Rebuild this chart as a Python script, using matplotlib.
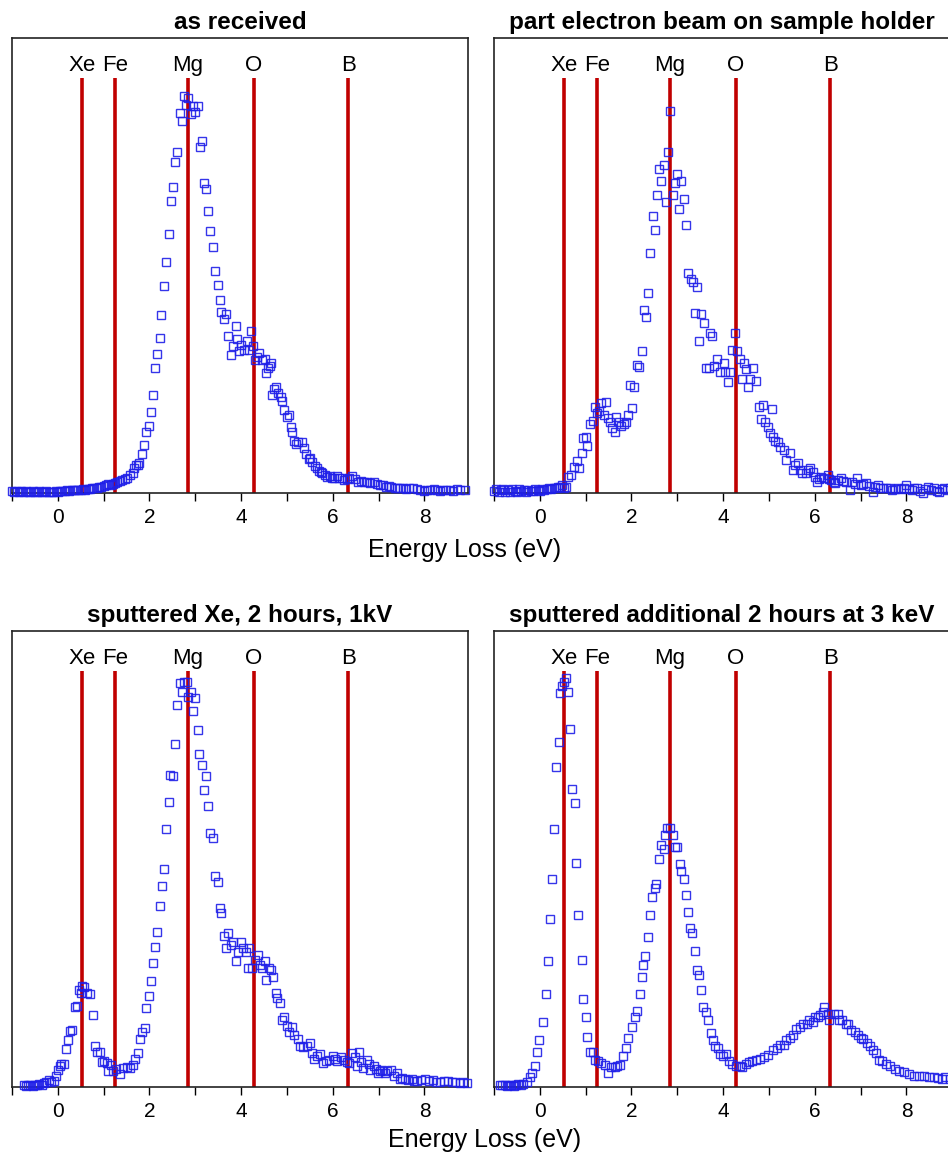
import matplotlib.pyplot as plt
from matplotlib.ticker import MultipleLocator

plt.rcParams['font.family'] = ['Liberation Sans', 'DejaVu Sans']

# edge positions (eV) of the reference elements
elements = ['Xe', 'Fe', 'Mg', 'O', 'B']
element_ev = [0.52, 1.24, 2.83, 4.27, 6.34]

titles = ['as received',
          'part electron beam on sample holder',
          'sputtered Xe, 2 hours, 1kV',
          'sputtered additional 2 hours at 3 keV']

# --- as received ---
x_recv = [-1.00, -0.95, -0.90, -0.85, -0.80, -0.75, -0.70, -0.65, -0.60, -0.55,
          -0.50, -0.45, -0.40, -0.35, -0.30, -0.25, -0.20, -0.15, -0.10, -0.05,
          0.00, 0.05, 0.10, 0.15, 0.20, 0.25, 0.30, 0.35, 0.40, 0.45,
          0.50, 0.55, 0.60, 0.65, 0.70, 0.75, 0.80, 0.86, 0.90, 0.95,
          1.00, 1.05, 1.10, 1.15, 1.20, 1.25, 1.30, 1.36, 1.41, 1.46,
          1.52, 1.57, 1.63, 1.67, 1.70, 1.74, 1.77, 1.83, 1.88, 1.93,
          1.98, 2.03, 2.07, 2.11, 2.16, 2.22, 2.26, 2.31, 2.37, 2.42,
          2.46, 2.51, 2.56, 2.61, 2.66, 2.72, 2.75, 2.80, 2.85, 2.91,
          2.96, 3.00, 3.05, 3.10, 3.14, 3.19, 3.24, 3.28, 3.33, 3.38,
          3.44, 3.49, 3.53, 3.57, 3.62, 3.67, 3.72, 3.77, 3.82, 3.88,
          3.91, 3.96, 4.00, 4.06, 4.12, 4.17, 4.22, 4.26, 4.31, 4.35,
          4.39, 4.46, 4.51, 4.55, 4.59, 4.63, 4.66, 4.68, 4.72, 4.75,
          4.81, 4.86, 4.90, 4.94, 4.99, 5.05, 5.09, 5.12, 5.16, 5.19,
          5.25, 5.33, 5.38, 5.42, 5.47, 5.51, 5.55, 5.62, 5.66, 5.69,
          5.74, 5.77, 5.83, 5.88, 5.93, 5.98, 6.03, 6.09, 6.14, 6.19,
          6.24, 6.30, 6.36, 6.42, 6.48, 6.56, 6.62, 6.68, 6.75, 6.82,
          6.89, 6.96, 7.04, 7.10, 7.16, 7.22, 7.28, 7.35, 7.41, 7.47,
          7.54, 7.60, 7.67, 7.76, 7.83, 7.90, 7.98, 8.05, 8.12, 8.20,
          8.27, 8.34, 8.41, 8.48, 8.56, 8.63, 8.70, 8.78, 8.88]
y_recv = [0.004, 0.003, 0.005, 0.003, 0.004, 0.002, 0.004, 0.003, 0.003, 0.004,
          0.002, 0.003, 0.004, 0.003, 0.002, 0.004, 0.003, 0.002, 0.003, 0.004,
          0.003, 0.005, 0.004, 0.005, 0.006, 0.005, 0.006, 0.007, 0.006, 0.007,
          0.007, 0.008, 0.006, 0.009, 0.008, 0.010, 0.011, 0.012, 0.014, 0.013,
          0.015, 0.017, 0.019, 0.018, 0.020, 0.022, 0.024, 0.027, 0.029, 0.031,
          0.033, 0.040, 0.043, 0.055, 0.062, 0.061, 0.065, 0.086, 0.105, 0.133,
          0.147, 0.179, 0.215, 0.275, 0.305, 0.341, 0.391, 0.456, 0.508, 0.570,
          0.641, 0.673, 0.727, 0.749, 0.836, 0.818, 0.873, 0.852, 0.869, 0.833,
          0.851, 0.838, 0.851, 0.761, 0.774, 0.681, 0.669, 0.619, 0.576, 0.540,
          0.489, 0.457, 0.424, 0.398, 0.382, 0.393, 0.344, 0.303, 0.322, 0.367,
          0.338, 0.311, 0.325, 0.314, 0.333, 0.314, 0.356, 0.322, 0.292, 0.300,
          0.307, 0.292, 0.294, 0.263, 0.274, 0.280, 0.285, 0.215, 0.228, 0.234,
          0.219, 0.210, 0.203, 0.182, 0.166, 0.171, 0.146, 0.135, 0.115, 0.108,
          0.112, 0.113, 0.098, 0.086, 0.074, 0.078, 0.069, 0.060, 0.055, 0.049,
          0.047, 0.043, 0.040, 0.036, 0.038, 0.034, 0.033, 0.037, 0.032, 0.034,
          0.029, 0.031, 0.033, 0.037, 0.030, 0.025, 0.027, 0.024, 0.025, 0.022,
          0.024, 0.020, 0.018, 0.017, 0.014, 0.015, 0.013, 0.012, 0.011, 0.010,
          0.011, 0.009, 0.010, 0.010, 0.008, 0.007, 0.005, 0.007, 0.006, 0.008,
          0.006, 0.005, 0.007, 0.006, 0.007, 0.005, 0.008, 0.006, 0.006]

# --- part electron beam on sample holder ---
x_beam = [-1.00, -0.95, -0.90, -0.85, -0.80, -0.75, -0.70, -0.65, -0.60, -0.55,
          -0.50, -0.45, -0.40, -0.35, -0.30, -0.25, -0.20, -0.15, -0.10, -0.05,
          0.00, 0.05, 0.10, 0.15, 0.20, 0.25, 0.30, 0.35, 0.40, 0.44,
          0.49, 0.53, 0.57, 0.62, 0.68, 0.75, 0.81, 0.86, 0.91, 0.94,
          1.00, 1.04, 1.09, 1.16, 1.20, 1.25, 1.30, 1.34, 1.39, 1.44,
          1.49, 1.54, 1.58, 1.63, 1.67, 1.73, 1.78, 1.83, 1.87, 1.92,
          1.96, 2.02, 2.06, 2.11, 2.17, 2.22, 2.27, 2.31, 2.36, 2.41,
          2.47, 2.52, 2.56, 2.61, 2.65, 2.70, 2.75, 2.80, 2.85, 2.90,
          2.95, 3.00, 3.04, 3.09, 3.14, 3.19, 3.24, 3.29, 3.34, 3.38,
          3.43, 3.47, 3.52, 3.59, 3.63, 3.69, 3.72, 3.76, 3.81, 3.86,
          3.94, 4.02, 4.05, 4.10, 4.15, 4.20, 4.26, 4.30, 4.36, 4.42,
          4.45, 4.50, 4.55, 4.59, 4.65, 4.72, 4.78, 4.83, 4.88, 4.92,
          4.98, 5.03, 5.07, 5.08, 5.13, 5.19, 5.25, 5.32, 5.37, 5.45,
          5.52, 5.57, 5.63, 5.68, 5.72, 5.81, 5.86, 5.90, 5.95, 6.00,
          6.04, 6.09, 6.14, 6.20, 6.28, 6.32, 6.36, 6.41, 6.45, 6.51,
          6.57, 6.62, 6.68, 6.77, 6.82, 6.87, 6.92, 7.00, 7.06, 7.12,
          7.19, 7.26, 7.31, 7.37, 7.42, 7.48, 7.55, 7.63, 7.68, 7.74,
          7.81, 7.88, 7.94, 7.99, 8.05, 8.11, 8.17, 8.23, 8.29, 8.35,
          8.40, 8.46, 8.53, 8.61, 8.66, 8.72, 8.77, 8.82, 8.88, 8.94]
y_beam = [0.004, 0.008, 0.002, 0.006, 0.009, 0.003, 0.007, 0.002, 0.008, 0.005,
          0.003, 0.009, 0.004, 0.006, 0.002, 0.007, 0.005, 0.004, 0.008, 0.006,
          0.005, 0.008, 0.006, 0.009, 0.010, 0.008, 0.012, 0.011, 0.013, 0.014,
          0.018, 0.012, 0.014, 0.036, 0.040, 0.058, 0.071, 0.056, 0.089, 0.120,
          0.122, 0.104, 0.151, 0.159, 0.190, 0.175, 0.180, 0.197, 0.171, 0.201,
          0.164, 0.157, 0.142, 0.133, 0.168, 0.157, 0.147, 0.151, 0.157, 0.171,
          0.237, 0.186, 0.232, 0.281, 0.278, 0.313, 0.402, 0.386, 0.440, 0.527,
          0.609, 0.578, 0.656, 0.711, 0.686, 0.720, 0.640, 0.749, 0.840, 0.656,
          0.681, 0.701, 0.624, 0.686, 0.647, 0.588, 0.484, 0.471, 0.464, 0.395,
          0.453, 0.335, 0.393, 0.373, 0.274, 0.274, 0.351, 0.345, 0.279, 0.294,
          0.267, 0.286, 0.267, 0.245, 0.267, 0.314, 0.352, 0.313, 0.294, 0.250,
          0.285, 0.272, 0.232, 0.250, 0.274, 0.247, 0.190, 0.162, 0.193, 0.155,
          0.144, 0.131, 0.184, 0.124, 0.114, 0.111, 0.102, 0.095, 0.073, 0.087,
          0.051, 0.062, 0.067, 0.050, 0.045, 0.045, 0.050, 0.054, 0.047, 0.035,
          0.025, 0.030, 0.036, 0.032, 0.040, 0.030, 0.029, 0.024, 0.021, 0.028,
          0.032, 0.026, 0.025, 0.007, 0.024, 0.020, 0.032, 0.017, 0.019, 0.021,
          0.015, 0.003, 0.014, 0.018, 0.011, 0.010, 0.012, 0.010, 0.007, 0.008,
          0.011, 0.008, 0.012, 0.018, 0.009, 0.006, 0.010, 0.012, 0.004, 0.001,
          0.009, 0.013, 0.006, 0.010, 0.004, 0.003, 0.009, 0.012, 0.006, 0.010]

# --- sputtered Xe, 2 hours, 1 kV ---
x_xe1 = [-0.74, -0.70, -0.65, -0.60, -0.55, -0.50, -0.45, -0.40, -0.35, -0.30,
         -0.25, -0.19, -0.14, -0.08, -0.04, 0.00, 0.04, 0.07, 0.14, 0.18,
         0.23, 0.27, 0.32, 0.37, 0.41, 0.46, 0.50, 0.53, 0.57, 0.63,
         0.70, 0.76, 0.81, 0.86, 0.92, 0.96, 1.01, 1.07, 1.10, 1.15,
         1.21, 1.28, 1.36, 1.43, 1.51, 1.58, 1.65, 1.69, 1.74, 1.79,
         1.83, 1.90, 1.93, 1.98, 2.03, 2.07, 2.11, 2.16, 2.22, 2.27,
         2.31, 2.37, 2.42, 2.45, 2.51, 2.56, 2.61, 2.66, 2.72, 2.75,
         2.81, 2.85, 2.91, 2.96, 3.00, 3.05, 3.09, 3.14, 3.19, 3.24,
         3.28, 3.33, 3.38, 3.44, 3.49, 3.53, 3.57, 3.62, 3.67, 3.72,
         3.77, 3.82, 3.88, 3.93, 4.00, 4.04, 4.10, 4.14, 4.18, 4.24,
         4.30, 4.36, 4.41, 4.46, 4.51, 4.55, 4.61, 4.66, 4.70, 4.75,
         4.79, 4.84, 4.90, 4.94, 5.00, 5.05, 5.11, 5.16, 5.23, 5.29,
         5.36, 5.43, 5.51, 5.55, 5.60, 5.66, 5.72, 5.79, 5.85, 5.92,
         6.01, 6.05, 6.10, 6.17, 6.25, 6.30, 6.35, 6.42, 6.48, 6.53,
         6.58, 6.62, 6.66, 6.74, 6.78, 6.82, 6.89, 6.94, 6.98, 7.03,
         7.07, 7.13, 7.18, 7.27, 7.33, 7.40, 7.47, 7.52, 7.58, 7.65,
         7.72, 7.78, 7.83, 7.92, 8.01, 8.10, 8.19, 8.26, 8.34, 8.43,
         8.52, 8.60, 8.67, 8.78, 8.85, 8.92]
y_xe1 = [0.004, 0.003, 0.005, 0.004, 0.003, 0.005, 0.004, 0.006, 0.005, 0.009,
         0.010, 0.015, 0.012, 0.013, 0.024, 0.037, 0.045, 0.050, 0.050, 0.083,
         0.103, 0.123, 0.125, 0.175, 0.177, 0.213, 0.207, 0.222, 0.220, 0.207,
         0.203, 0.157, 0.090, 0.077, 0.077, 0.055, 0.057, 0.053, 0.034, 0.049,
         0.035, 0.040, 0.028, 0.042, 0.044, 0.042, 0.048, 0.061, 0.075, 0.105,
         0.121, 0.129, 0.173, 0.200, 0.233, 0.273, 0.308, 0.341, 0.398, 0.441,
         0.479, 0.566, 0.626, 0.684, 0.681, 0.753, 0.837, 0.885, 0.867, 0.889,
         0.889, 0.856, 0.866, 0.825, 0.852, 0.783, 0.730, 0.706, 0.652, 0.683,
         0.617, 0.558, 0.545, 0.463, 0.449, 0.392, 0.382, 0.331, 0.304, 0.338,
         0.311, 0.319, 0.277, 0.297, 0.319, 0.304, 0.295, 0.262, 0.304, 0.262,
         0.279, 0.289, 0.268, 0.260, 0.277, 0.235, 0.262, 0.257, 0.241, 0.207,
         0.195, 0.184, 0.148, 0.153, 0.134, 0.121, 0.132, 0.114, 0.105, 0.090,
         0.087, 0.089, 0.096, 0.075, 0.061, 0.068, 0.073, 0.052, 0.058, 0.060,
         0.069, 0.062, 0.056, 0.066, 0.060, 0.055, 0.053, 0.074, 0.066, 0.045,
         0.076, 0.055, 0.042, 0.060, 0.050, 0.038, 0.045, 0.040, 0.031, 0.035,
         0.038, 0.030, 0.034, 0.038, 0.024, 0.031, 0.017, 0.020, 0.017, 0.015,
         0.018, 0.014, 0.013, 0.016, 0.017, 0.014, 0.016, 0.012, 0.011, 0.014,
         0.013, 0.010, 0.011, 0.008, 0.010, 0.008]

# --- sputtered additional 2 hours at 3 keV ---
x_xe3 = [-0.87, -0.82, -0.77, -0.72, -0.67, -0.62, -0.57, -0.52, -0.47, -0.42,
         -0.36, -0.29, -0.22, -0.16, -0.11, -0.06, -0.01, 0.06, 0.13, 0.17,
         0.22, 0.27, 0.32, 0.36, 0.41, 0.44, 0.49, 0.52, 0.57, 0.62,
         0.65, 0.70, 0.76, 0.80, 0.84, 0.91, 0.95, 1.00, 1.04, 1.09,
         1.15, 1.20, 1.27, 1.34, 1.42, 1.49, 1.56, 1.63, 1.68, 1.75,
         1.81, 1.87, 1.92, 2.02, 2.07, 2.12, 2.18, 2.22, 2.25, 2.30,
         2.36, 2.41, 2.45, 2.51, 2.54, 2.60, 2.65, 2.70, 2.74, 2.77,
         2.85, 2.90, 2.95, 3.00, 3.05, 3.09, 3.14, 3.19, 3.23, 3.28,
         3.33, 3.38, 3.43, 3.47, 3.52, 3.57, 3.62, 3.67, 3.73, 3.78,
         3.83, 3.88, 3.94, 4.00, 4.07, 4.13, 4.20, 4.28, 4.36, 4.41,
         4.49, 4.57, 4.64, 4.71, 4.80, 4.89, 4.98, 5.08, 5.17, 5.24,
         5.32, 5.38, 5.45, 5.52, 5.60, 5.67, 5.74, 5.82, 5.87, 5.95,
         6.00, 6.06, 6.12, 6.17, 6.21, 6.28, 6.32, 6.41, 6.50, 6.53,
         6.60, 6.67, 6.72, 6.78, 6.87, 6.94, 7.00, 7.05, 7.13, 7.20,
         7.27, 7.34, 7.40, 7.47, 7.55, 7.65, 7.75, 7.84, 7.94, 8.05,
         8.16, 8.27, 8.38, 8.49, 8.60, 8.69, 8.78, 8.85, 8.95]
y_xe3 = [0.004, 0.005, 0.004, 0.003, 0.005, 0.004, 0.003, 0.005, 0.006, 0.005,
         0.007, 0.012, 0.021, 0.030, 0.045, 0.077, 0.103, 0.143, 0.204, 0.277,
         0.368, 0.457, 0.566, 0.702, 0.757, 0.865, 0.880, 0.889, 0.898, 0.867,
         0.786, 0.653, 0.622, 0.491, 0.378, 0.279, 0.193, 0.154, 0.110, 0.077,
         0.076, 0.059, 0.057, 0.053, 0.049, 0.031, 0.043, 0.044, 0.047, 0.048,
         0.068, 0.085, 0.107, 0.132, 0.154, 0.167, 0.205, 0.242, 0.268, 0.287,
         0.328, 0.377, 0.417, 0.436, 0.445, 0.499, 0.530, 0.521, 0.552, 0.568,
         0.569, 0.553, 0.527, 0.526, 0.489, 0.474, 0.457, 0.420, 0.384, 0.348,
         0.337, 0.299, 0.257, 0.246, 0.213, 0.175, 0.165, 0.147, 0.118, 0.103,
         0.090, 0.085, 0.073, 0.069, 0.073, 0.057, 0.050, 0.047, 0.047, 0.044,
         0.050, 0.055, 0.057, 0.060, 0.062, 0.066, 0.071, 0.082, 0.085, 0.092,
         0.092, 0.103, 0.107, 0.114, 0.128, 0.132, 0.138, 0.139, 0.148, 0.143,
         0.154, 0.154, 0.157, 0.165, 0.176, 0.160, 0.148, 0.161, 0.160, 0.146,
         0.146, 0.138, 0.139, 0.125, 0.121, 0.114, 0.107, 0.105, 0.096, 0.089,
         0.082, 0.075, 0.060, 0.057, 0.050, 0.047, 0.039, 0.036, 0.032, 0.029,
         0.025, 0.024, 0.025, 0.021, 0.021, 0.019, 0.018, 0.021, 0.018]

series = [(x_recv, y_recv), (x_beam, y_beam), (x_xe1, y_xe1), (x_xe3, y_xe3)]

W, H = 948, 1155
fig = plt.figure(figsize=(W / 100, H / 100), dpi=100)

# axes boxes in pixels: left, bottom (from top), width, height
boxes = [(12, 493, 456, 455), (494, 493, 456, 455),
         (12, 1087, 456, 456), (494, 1087, 456, 456)]

for (left, bottom, w, h), (xs, ys), title in zip(boxes, series, titles):
    ax = fig.add_axes([left / W, 1 - bottom / H, w / W, h / H])
    ax.set_xlim(-1.0, 8.95)
    ax.set_ylim(0, 1)

    ax.vlines(element_ev, 0, 0.912, color='#c00000', lw=2.6, zorder=2)
    for name, ev in zip(elements, element_ev):
        ax.text(ev, 0.928, name, ha='center', va='baseline', fontsize=16)

    ax.plot(xs, ys, 's', ms=5.2, mfc='none', mec='#1f1fe8', mew=1.0,
            alpha=0.9, zorder=3, clip_on=False)

    ax.text(0.5, 1.019, title, transform=ax.transAxes, ha='center',
            va='baseline', fontsize=17.5, fontweight='bold')

    ax.xaxis.set_major_locator(MultipleLocator(2))
    ax.xaxis.set_minor_locator(MultipleLocator(1))
    ax.tick_params(axis='x', which='both', direction='out', length=6,
                   width=1, labelsize=15, pad=5, top=False)
    ax.set_yticks([])
    for sp in ax.spines.values():
        sp.set_linewidth(1.2)
        sp.set_color('#222222')

fig.text(465 / W, 1 - 550 / H, 'Energy Loss (eV)', ha='center', va='center',
         fontsize=18)
fig.text(485 / W, 1 - 1140 / H, 'Energy Loss (eV)', ha='center', va='center',
         fontsize=18)

fig.savefig('out.png', dpi=100)
plt.close(fig)
